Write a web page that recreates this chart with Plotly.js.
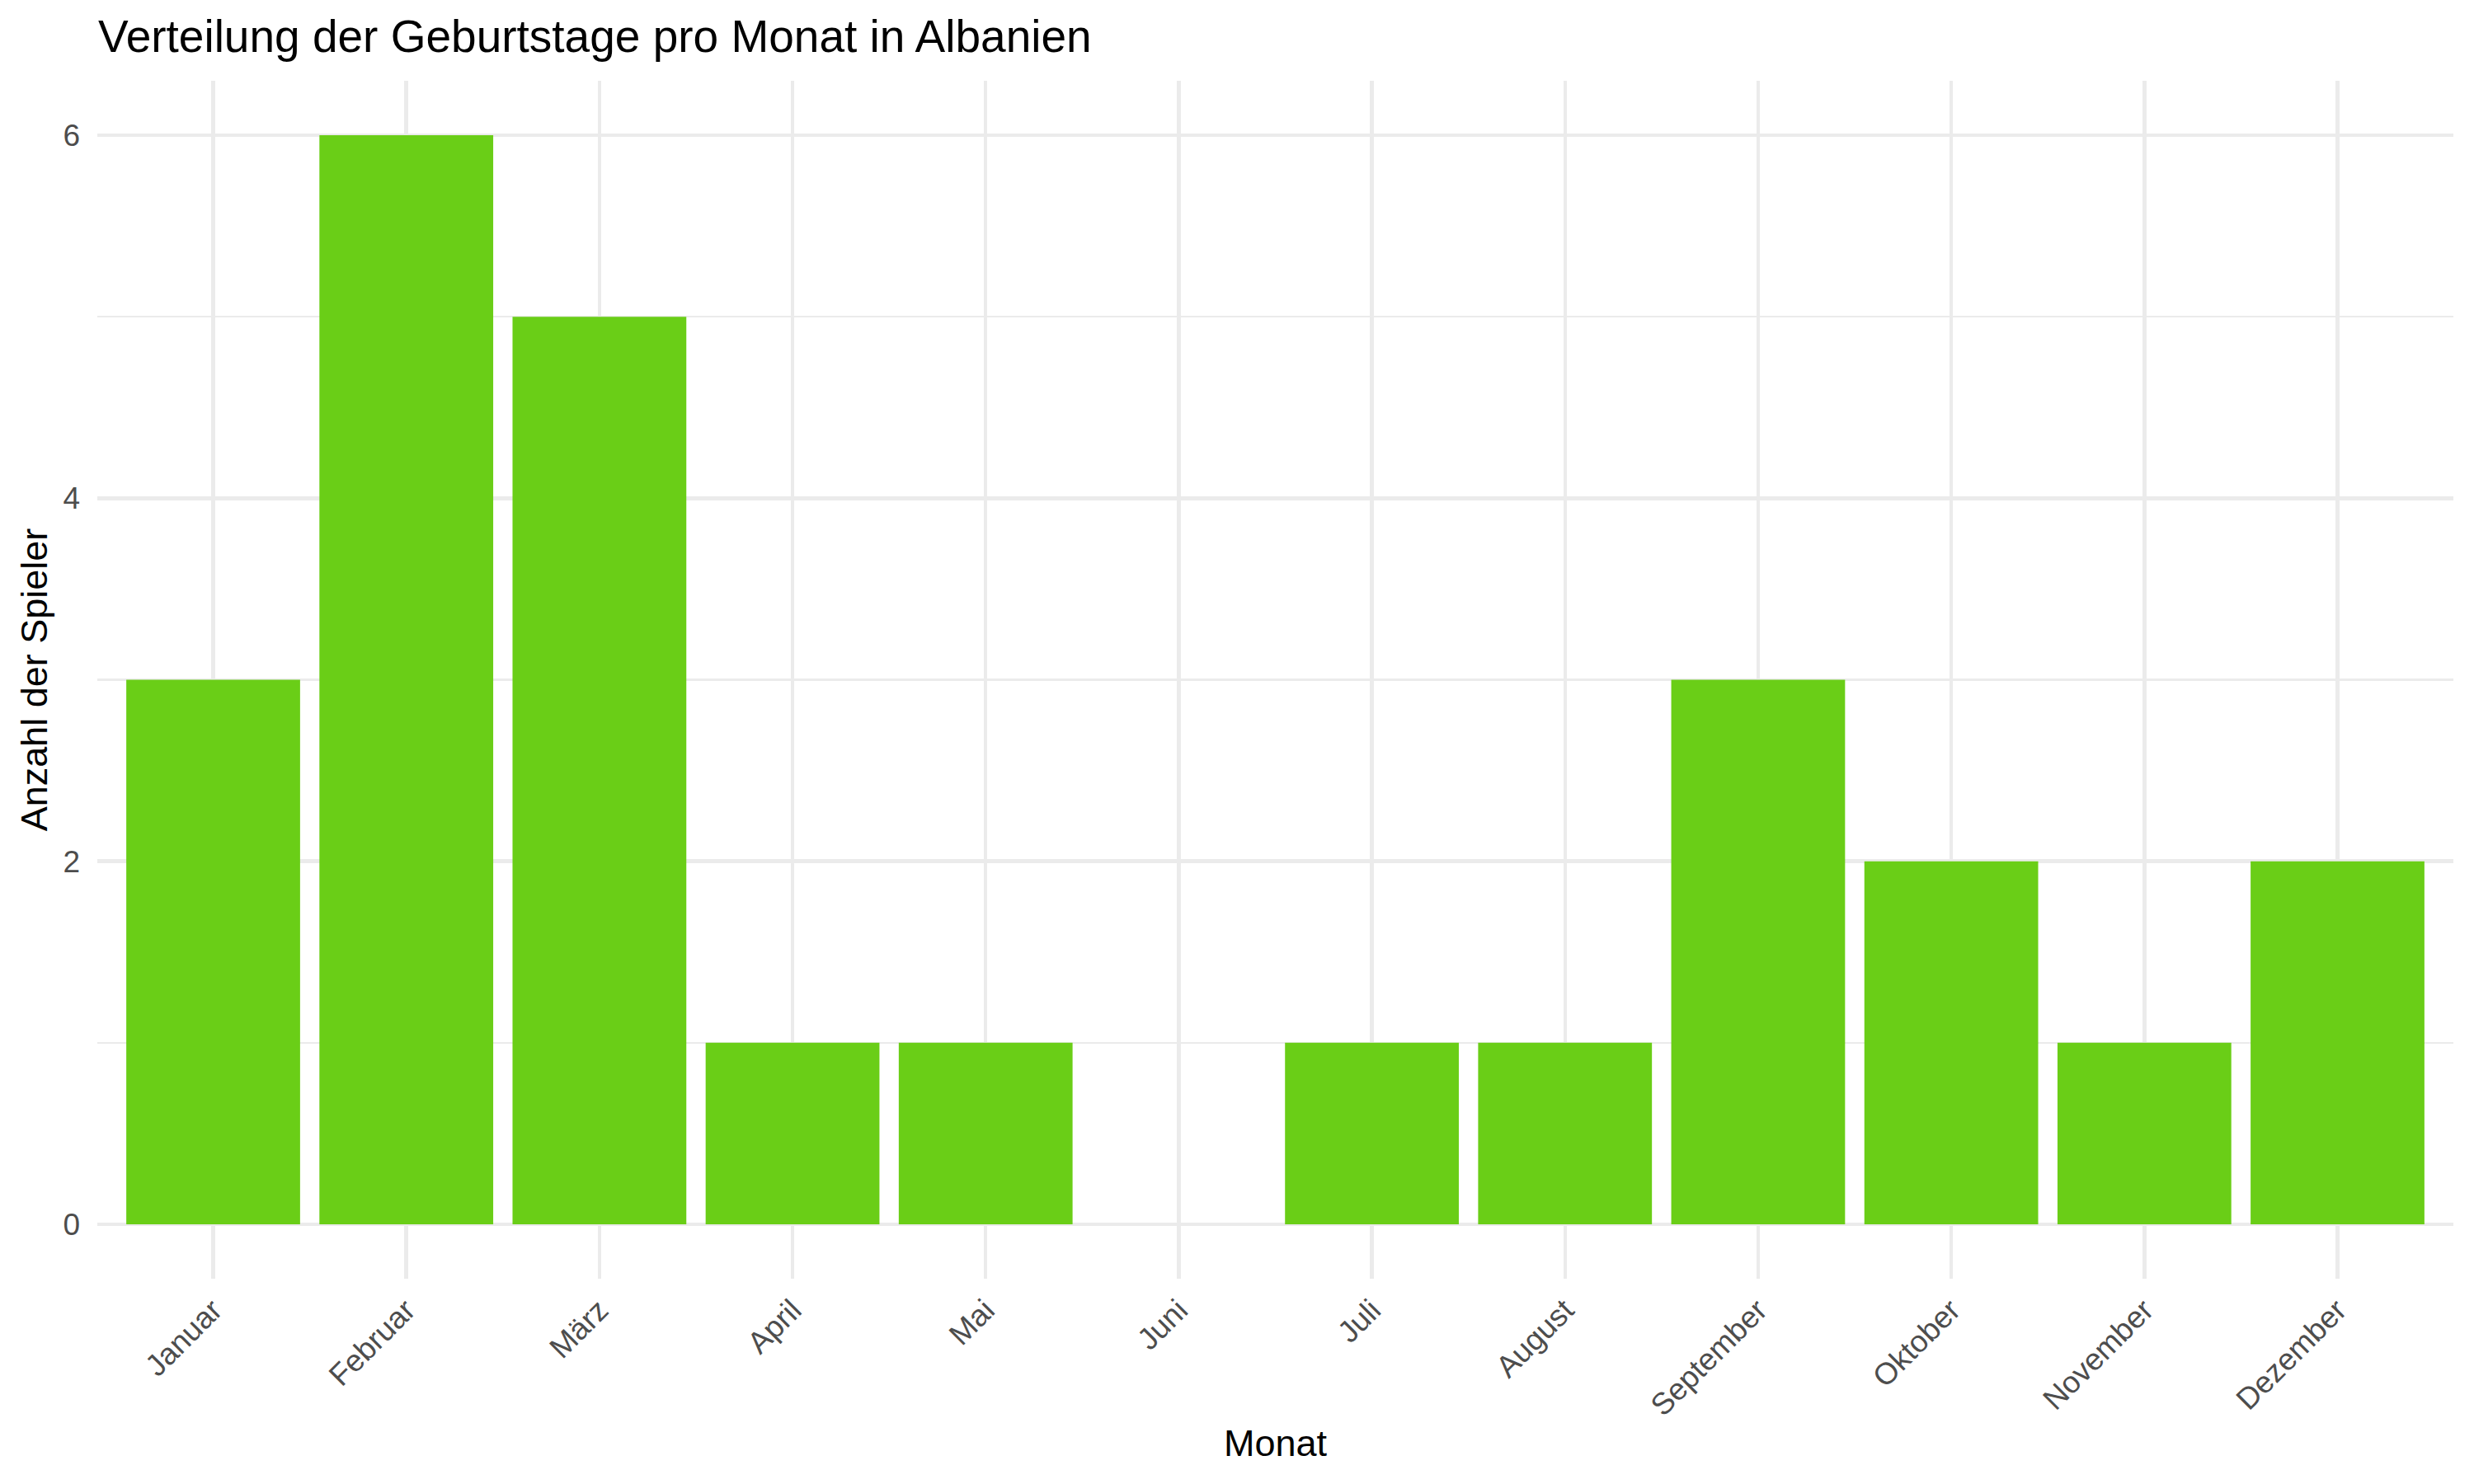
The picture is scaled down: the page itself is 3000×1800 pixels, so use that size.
<!DOCTYPE html>
<html>
<head>
<meta charset="utf-8">
<script src="https://cdn.plot.ly/plotly-3.0.1.min.js"></script>
<style>html,body{margin:0;padding:0;background:#fff;}</style>
</head>
<body>
<div id="chart" style="width:3000px;height:1800px;"></div>
<script>
const months = ["Januar","Februar","März","April","Mai","Juni","Juli","August","September","Oktober","November","Dezember"];
const counts = [3,6,5,1,1,0,1,1,3,2,1,2];
const yTicks = [0,2,4,6];

const FONT = "Liberation Sans, Arial, Helvetica, sans-serif";

const trace = {
  type: "bar",
  x: months,
  y: counts,
  marker: {color: "#6ACE17", line: {width: 0}},
  hoverinfo: "x+y"
};

const layout = {
  width: 3000,
  height: 1800,
  paper_bgcolor: "#ffffff",
  plot_bgcolor: "#ffffff",
  margin: {l: 118, r: 25, t: 98, b: 249, pad: 0},
  bargap: 0.1,
  showlegend: false,
  font: {family: FONT, color: "#000000"},
  title: {
    text: "Verteilung der Geburtstage pro Monat in Albanien",
    font: {family: FONT, size: 55, color: "#000000"},
    xref: "container", x: 119/3000, xanchor: "left",
    yref: "container", y: 1 - 44/1800, yanchor: "middle"
  },
  xaxis: {
    type: "category",
    categoryorder: "array",
    categoryarray: months,
    range: [-0.6, 11.6],
    tickangle: -45,
    tickfont: {family: FONT, size: 37, color: "#4D4D4D"},
    showgrid: true,
    gridcolor: "#EBEBEB",
    gridwidth: 4.4,
    zeroline: false,
    showline: false,
    ticks: "",
    ticklabelstandoff: 8,
    title: {text: "Monat", font: {family: FONT, size: 45, color: "#000000"}, standoff: 10}
  },
  yaxis: {
    range: [-0.3, 6.3],
    tickmode: "array",
    tickvals: yTicks,
    ticktext: yTicks.map(String),
    tickfont: {family: FONT, size: 37, color: "#4D4D4D"},
    showgrid: true,
    gridcolor: "#EBEBEB",
    gridwidth: 4.4,
    minor: {dtick: 1, tick0: 0, showgrid: true, gridcolor: "#EBEBEB", gridwidth: 2.2, ticks: ""},
    zeroline: false,
    showline: false,
    ticks: "",
    ticklabelstandoff: 20,
    title: {text: "Anzahl der Spieler", font: {family: FONT, size: 45, color: "#000000"}, standoff: 4}
  }
};

Plotly.newPlot("chart", [trace], layout, {displayModeBar: false, staticPlot: true});
</script>
</body>
</html>
